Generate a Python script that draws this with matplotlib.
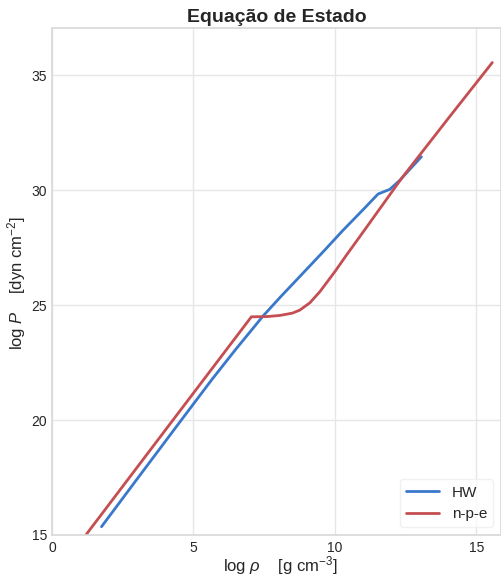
import numpy as np
import matplotlib
matplotlib.use("Agg")
import matplotlib.pyplot as plt
import seaborn as sns

# Data
hw_logrho = [1.75, 3.0, 4.5, 5.64, 6.5, 7.46, 8.06, 8.76, 9.65, 10.28, 11.0, 11.53, 11.75, 11.94, 12.3, 13.06]
hw_logP   = [15.36, 17.42, 19.88, 21.74, 23.08, 24.52, 25.33, 26.24, 27.4, 28.24, 29.15, 29.83, 29.94, 30.03, 30.43, 31.45]

npe_logrho = [1.0, 4.0, 7.05, 7.6, 8.06, 8.5, 8.76, 9.12, 9.47, 10.0, 10.41, 10.88, 12.36, 14.0, 15.57]
npe_logP   = [14.68, 19.55, 24.49, 24.5, 24.55, 24.65, 24.78, 25.1, 25.58, 26.45, 27.17, 27.97, 30.51, 33.1, 35.55]

sns.set_theme(style="whitegrid")
plt.rcParams['font.family'] = ['Liberation Sans', 'DejaVu Sans']
plt.rcParams['mathtext.fontset'] = 'custom'
plt.rcParams['mathtext.rm'] = 'Liberation Sans'
plt.rcParams['mathtext.it'] = 'Liberation Sans:italic'
plt.rcParams['mathtext.bf'] = 'Liberation Sans:bold'

fig = plt.figure(figsize=(5.02, 5.76), dpi=100)
ax = fig.add_axes([0.1036, 0.0712, 0.894, 0.8801])

ax.plot(hw_logrho, hw_logP, color="#3a78cc", lw=2.0, label="HW")
ax.plot(npe_logrho, npe_logP, color="#c44e52", lw=2.0, label="n-p-e")

ax.set_xlim(0, 15.87)
ax.set_ylim(15, 37.05)
ax.set_xticks([0, 5, 10, 15])
ax.set_yticks([15, 20, 25, 30, 35])
ax.tick_params(labelsize=10, colors="#262626", length=0)
ax.tick_params(axis='x', pad=4)
ax.tick_params(axis='y', pad=3.5)

ax.set_title("Equação de Estado", fontsize=14, fontweight="bold", color="#262626", pad=4)
ax.set_xlabel(r"log $\rho$    [g cm$^{-3}$]", fontsize=12, color="#262626")
ax.set_ylabel(r"log $P$    [dyn cm$^{-2}$]", fontsize=12, color="#262626")
ax.xaxis.set_label_coords(0.508, -0.037)
ax.yaxis.set_label_coords(-0.054, 0.497)

for s in ax.spines.values():
    s.set_color("#d9d9d9")
ax.grid(color="#e6e6e6", lw=1)

leg = ax.legend(loc="lower right", fontsize=11, frameon=True, handlelength=2.2)
leg.get_frame().set_edgecolor("#eeeeee")

fig.savefig("out.png", dpi=100)
